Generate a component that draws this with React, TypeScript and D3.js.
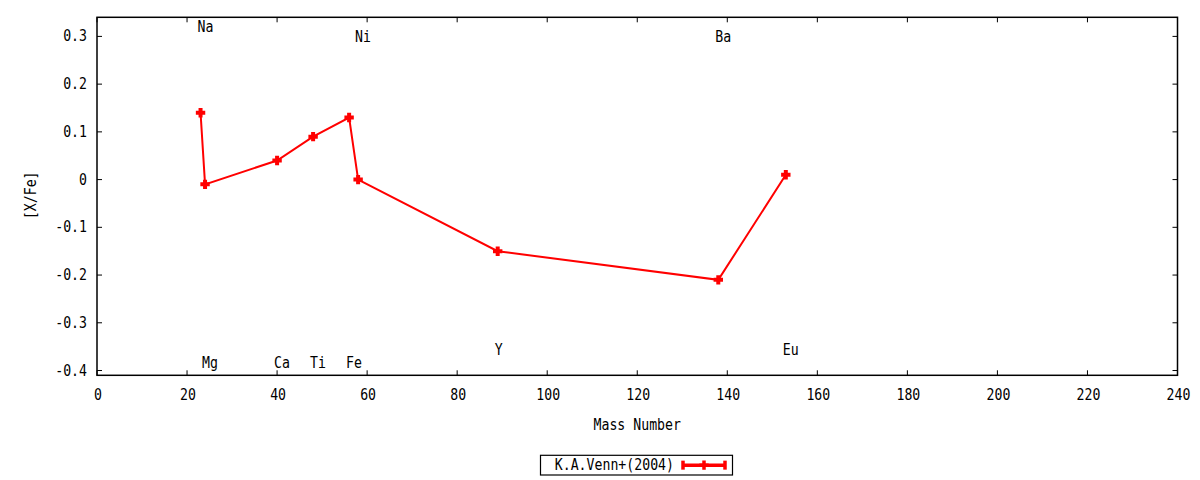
import * as d3 from "d3";

// element abundances, K.A.Venn+(2004)
const elements = ["Na", "Mg", "Ca", "Ti", "Fe", "Ni", "Y", "Ba", "Eu"];
const massNumbers = [23, 24, 40, 48, 56, 58, 89, 138, 153];
const xFe = [0.14, -0.01, 0.04, 0.09, 0.13, 0.0, -0.15, -0.21, 0.01];
// where each element name is written (value on the y axis)
const labelY = [0.32, -0.385, -0.385, -0.385, -0.385, 0.298, -0.356, 0.298, -0.356];

const xTicks = [0, 20, 40, 60, 80, 100, 120, 140, 160, 180, 200, 220, 240];
const yTicks = [-0.4, -0.3, -0.2, -0.1, 0, 0.1, 0.2, 0.3];
const seriesName = "K.A.Venn+(2004)";

const W = 1200;
const H = 480;
const margin = { top: 17.3, right: 22.5, bottom: 104.7, left: 97 };
const FONT = "'DejaVu Sans Mono', monospace";
const FS = 15.5;
const CHAR_W = 7.95;
const RED = "#ff0000";
const TICK = 5;

function T({ x, y, text, anchor = "start", transform }: { x: number; y: number; text: string; anchor?: string; transform?: string }) {
  return (
    <text
      x={x}
      y={y}
      textAnchor={anchor}
      dominantBaseline="central"
      fontFamily={FONT}
      fontSize={FS}
      textLength={text.length * CHAR_W}
      lengthAdjust="spacingAndGlyphs"
      transform={transform}
      fill="#000"
    >
      {text}
    </text>
  );
}

export default function App() {
  const x = d3.scaleLinear().domain([0, 240]).range([margin.left, W - margin.right]);
  const y = d3.scaleLinear().domain([-0.41, 0.34]).range([H - margin.bottom, margin.top]);

  const pts = massNumbers.map((m, i) => ({ m, v: xFe[i] }));
  const line = d3.line<{ m: number; v: number }>().x(d => x(d.m)).y(d => y(d.v));

  const x0 = x.range()[0];
  const x1 = x.range()[1];
  const y0 = y.range()[0];
  const y1 = y.range()[1];
  const fmt = (v: number) => String(+v.toFixed(1));
  const plus = "M-4.7,0H4.7M0,-4.7V4.7";

  const lg = { x: 540.5, y: 455.3, w: 192, h: 19.7 };
  const lx0 = 683;
  const lx1 = 725;
  const ly = lg.y + lg.h / 2;

  return (
    <svg width={W} height={H} style={{ position: "absolute", left: 0, top: 0, background: "#fff" }}>
      {/* ticks, mirrored on all four sides */}
      <g stroke="#000" strokeWidth={1}>
        {xTicks.map(t => (
          <g key={"xt" + t}>
            <line x1={x(t)} x2={x(t)} y1={y0} y2={y0 - TICK} />
            <line x1={x(t)} x2={x(t)} y1={y1} y2={y1 + TICK} />
          </g>
        ))}
        {yTicks.map(t => (
          <g key={"yt" + t}>
            <line x1={x0} x2={x0 + TICK} y1={y(t)} y2={y(t)} />
            <line x1={x1} x2={x1 - TICK} y1={y(t)} y2={y(t)} />
          </g>
        ))}
      </g>
      {xTicks.map(t => (
        <T key={"xl" + t} x={x(t) + 1} y={395} text={String(t)} anchor="middle" />
      ))}
      {yTicks.map(t => (
        <T key={"yl" + t} x={87} y={y(t)} text={fmt(t)} anchor="end" />
      ))}

      {/* element labels */}
      {elements.map((e, i) => (
        <T key={"el" + e} x={x(massNumbers[i]) - 3} y={y(labelY[i])} text={e} />
      ))}

      {/* data */}
      <path d={line(pts) || ""} fill="none" stroke={RED} strokeWidth={2} />
      {pts.map((d, i) => (
        <path key={"p" + i} d={plus} transform={`translate(${x(d.m)},${y(d.v)})`} stroke={RED} strokeWidth={4} fill="none" />
      ))}

      {/* frame */}
      <rect x={x0} y={y1} width={x1 - x0} height={y0 - y1} fill="none" stroke="#000" strokeWidth={1.5} />

      {/* axis titles */}
      <T x={(x0 + x1) / 2} y={425} text="Mass Number" anchor="middle" />
      <T x={0} y={0} text="[X/Fe]" anchor="middle" transform={`translate(31,${(y0 + y1) / 2 - 1}) rotate(-90)`} />

      {/* legend */}
      <rect x={lg.x} y={lg.y} width={lg.w} height={lg.h} fill="none" stroke="#000" strokeWidth={1.2} />
      <T x={674} y={ly} text={seriesName} anchor="end" />
      <g stroke={RED} strokeWidth={3.5}>
        <line x1={lx0} x2={lx1} y1={ly} y2={ly} />
        <line x1={lx0} x2={lx0} y1={ly - 4.5} y2={ly + 4.5} />
        <line x1={lx1} x2={lx1} y1={ly - 4.5} y2={ly + 4.5} />
        <path d={plus} transform={`translate(${(lx0 + lx1) / 2},${ly})`} fill="none" />
      </g>
    </svg>
  );
}
